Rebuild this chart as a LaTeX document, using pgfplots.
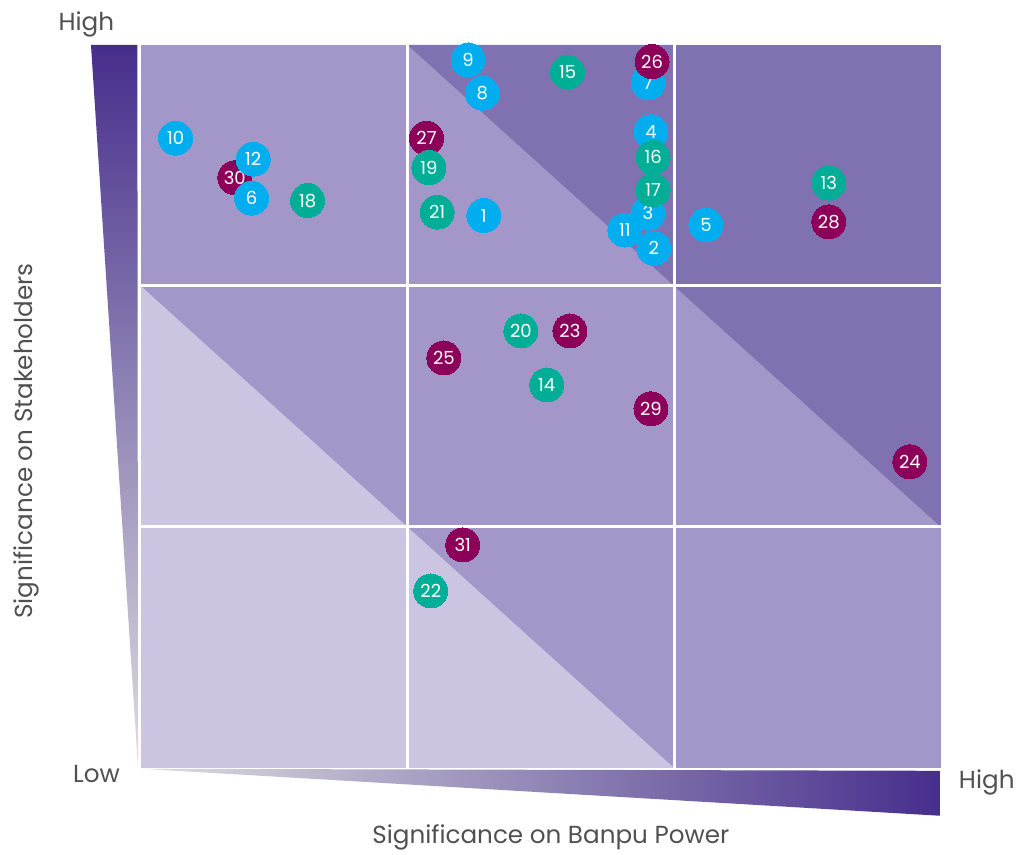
\documentclass[border=0pt]{standalone}
\usepackage{pgfplots}
\pgfplotsset{compat=1.18}
\usepackage{fontspec}
\setmainfont{Poppins}
\definecolor{clight}{RGB}{203,197,226}
\definecolor{cmed}{RGB}{162,151,200}
\definecolor{cdark}{RGB}{128,113,176}
\definecolor{cgrad}{RGB}{70,46,140}
\definecolor{cgradmid}{RGB}{128,110,178}
\definecolor{cgray}{RGB}{222,222,224}
\definecolor{cblue}{RGB}{0,174,239}
\definecolor{cteal}{RGB}{0,173,150}
\definecolor{cmag}{RGB}{140,0,90}
\definecolor{ctext}{RGB}{80,80,80}
\begin{document}
\begin{tikzpicture}
\begin{axis}[
  width=600pt, height=542.25pt, scale only axis,
  xmin=0, xmax=3, ymin=0, ymax=3,
  hide axis, clip=false,
  every node near coord/.append style={anchor=center, text=white, inner sep=0pt, font=\fontsize{13.5}{13.5}\selectfont},
]
% bounding box
\path (axis cs:-0.52875,-0.3402) rectangle (axis cs:3.2925,3.1867);
% cells
\fill[cmed] (axis cs:0,2) rectangle (axis cs:1,3);
\fill[cmed] (axis cs:1,2) rectangle (axis cs:2,3);
\fill[cdark] (axis cs:1,3) -- (axis cs:2,3) -- (axis cs:2,2) -- cycle;
\fill[cdark] (axis cs:2,2) rectangle (axis cs:3,3);
\fill[clight] (axis cs:0,1) rectangle (axis cs:1,2);
\fill[cmed] (axis cs:0,2) -- (axis cs:1,2) -- (axis cs:1,1) -- cycle;
\fill[cmed] (axis cs:1,1) rectangle (axis cs:2,2);
\fill[cmed] (axis cs:2,1) rectangle (axis cs:3,2);
\fill[cdark] (axis cs:2,2) -- (axis cs:3,2) -- (axis cs:3,1) -- cycle;
\fill[clight] (axis cs:0,0) rectangle (axis cs:1,1);
\fill[clight] (axis cs:1,0) rectangle (axis cs:2,1);
\fill[cmed] (axis cs:1,1) -- (axis cs:2,1) -- (axis cs:2,0) -- cycle;
\fill[cmed] (axis cs:2,0) rectangle (axis cs:3,1);
\draw[white, line width=2.5pt] (axis cs:1,0) -- (axis cs:1,3);
\draw[white, line width=2.5pt] (axis cs:2,0) -- (axis cs:2,3);
\draw[white, line width=2.2pt] (axis cs:0,1) -- (axis cs:3,1);
\draw[white, line width=2.2pt] (axis cs:0,2) -- (axis cs:3,2);
% gradient wedges
\shade[top color=cgrad, middle color=cgradmid, bottom color=cgray]
  (axis cs:-0.1875,3) -- (axis cs:-0.0135,3) -- (axis cs:-0.011,0.0) -- cycle;
\shade[left color=cgray, right color=cgrad]
  (axis cs:0,-0.004) -- (axis cs:2.9965,-0.0125) -- (axis cs:2.9965,-0.199) -- cycle;
% texts
\node[anchor=base, text=ctext, font=\fontsize{18.5}{18.5}\selectfont] at (axis cs:-0.205,3.062) {High};
\node[anchor=base, text=ctext, font=\fontsize{18.5}{18.5}\selectfont] at (axis cs:-0.167,-0.0622) {Low};
\node[anchor=base, text=ctext, font=\fontsize{18.5}{18.5}\selectfont] at (axis cs:3.1725,-0.0842) {High};
\node[anchor=base, text=ctext, font=\fontsize{18.5}{18.5}\selectfont] at (axis cs:1.5375,-0.3154) {Significance on Banpu Power};
\node[anchor=base, rotate=90, text=ctext, font=\fontsize{18.5}{18.5}\selectfont] at (axis cs:-0.405,1.357) {Significance on Stakeholders};
% points
\addplot[color=cmag, only marks, mark=*, mark size=12.75pt, mark options={fill=cmag, draw=cmag, line width=0pt},
  nodes near coords, point meta=explicit symbolic] table[meta=label] {
x y label
0.352 2.449 30
1.071 2.613 27
};
\addplot[color=cblue, only marks, mark=*, mark size=12.75pt, mark options={fill=cblue, draw=cblue, line width=0pt},
  nodes near coords, point meta=explicit symbolic] table[meta=label] {
x y label
1.815 2.232 11
1.286 2.292 1
1.902 2.302 3
1.924 2.156 2
1.913 2.640 4
2.119 2.253 5
0.415 2.364 6
1.902 2.844 7
1.280 2.800 8
1.227 2.938 9
0.130 2.613 10
0.421 2.526 12
};
\addplot[color=cteal, only marks, mark=*, mark size=12.75pt, mark options={fill=cteal, draw=cteal, line width=0pt},
  nodes near coords, point meta=explicit symbolic] table[meta=label] {
x y label
2.580 2.427 13
1.522 1.589 14
1.600 2.887 15
1.921 2.534 16
1.921 2.398 17
0.625 2.354 18
1.080 2.491 19
1.425 1.813 20
1.111 2.306 21
1.087 0.734 22
};
\addplot[color=cmag, only marks, mark=*, mark size=12.75pt, mark options={fill=cmag, draw=cmag, line width=0pt},
  nodes near coords, point meta=explicit symbolic] table[meta=label] {
x y label
1.609 1.813 23
2.884 1.270 24
1.136 1.701 25
1.917 2.931 26
2.580 2.266 28
1.913 1.490 29
1.207 0.925 31
};
\end{axis}
\end{tikzpicture}
\end{document}
